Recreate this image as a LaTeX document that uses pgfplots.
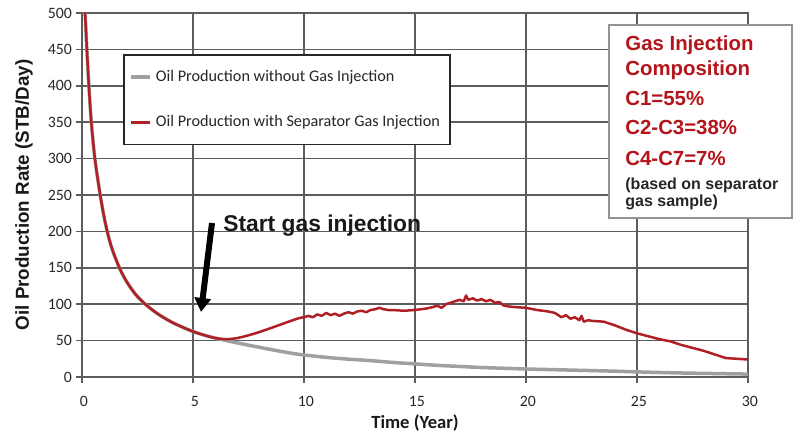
\documentclass[border=0pt]{standalone}
\usepackage{fontspec}
\setmainfont{Liberation Sans}
\newfontfamily\carlito{Carlito}
\usepackage{pgfplots}
\pgfplotsset{compat=1.18}
\usetikzlibrary{arrows.meta}
\definecolor{gridgray}{HTML}{5C5C5C}
\definecolor{oilgray}{HTML}{A0A0A0}
\definecolor{oilred}{HTML}{B01F24}
\definecolor{boxred}{HTML}{B3151B}

\begin{document}
\begin{tikzpicture}
\begin{axis}[
  scale only axis, width=333pt, height=182pt,
  xmin=0, xmax=30, ymin=0, ymax=500,
  xtick={0,5,...,30}, ytick={0,50,...,500},
  grid=major, grid style={gridgray, line width=0.8pt},
  axis line style={gridgray, line width=0.8pt},
  tick pos=left, tick align=outside, major tick length=3pt,
  tick style={gridgray, line width=0.8pt},
  /pgf/number format/assume math mode=true,
  ticklabel style={font=\carlito\fontsize{7.9}{9}\selectfont, text=black!85},
  xticklabel style={yshift=-3pt, xshift=1pt},
  yticklabel style={xshift=1.5pt},
  xlabel={Time (Year)},
  ylabel={Oil Production Rate (STB/Day)},
  xlabel style={font=\carlito\bfseries\fontsize{9.3}{11}\selectfont, text=black!90,
    at={(axis description cs:0.5,-0.126)}, anchor=center},
  ylabel style={font=\bfseries\fontsize{9.4}{11}\selectfont, text=black!90,
    at={(axis description cs:-0.087,0.5)}, anchor=center},
  legend style={at={(axis description cs:0.0616,0.887)}, anchor=north west,
    draw=black!85, line width=0.75pt, fill=white,
    font=\carlito\fontsize{8.1}{9.5}\selectfont, text=black!85,
    inner xsep=3pt, inner ysep=5.5pt, row sep=11.5pt},
  legend cell align=left,
  legend image code/.code={\draw[#1, line width=1.6pt] (0pt,0pt) -- (9.5pt,0pt);},
]
% without gas injection
\addplot[oilgray, line width=1.75pt, smooth, tension=0.5] coordinates {
(0.05,560) (0.14,500) (0.22,450) (0.31,400) (0.42,350) (0.58,300) (0.81,252)
(1.0,219) (1.2,192) (1.4,172) (1.7,149) (2.0,131.5) (2.4,114) (2.85,100)
(3.4,87) (4.0,76) (4.5,68.8) (5.0,62.5) (5.5,57.5) (6.0,53.5) (6.5,50)
(7.0,46.8) (7.7,42.5) (8.9,35.5) (9.8,31) (11,27) (12,24.5) (13,22.5)
(14,20) (15,18) (16,16) (17,14.5) (18,13) (19,12) (20,11) (22,9.5) (24,8)
(25,7) (27,5.5) (30,4)
};
\addlegendentry{Oil Production without Gas Injection}
% with separator gas injection, early smooth part
\addplot[oilred, line width=1.25pt, smooth, tension=0.5, forget plot] coordinates {
(0.05,560) (0.14,500) (0.22,450) (0.31,400) (0.42,350) (0.58,300) (0.81,252)
(1.0,219) (1.2,192) (1.4,172) (1.7,149) (2.0,131.5) (2.4,114) (2.85,100)
(3.4,87) (4.0,76) (4.5,68.8) (5.0,62.5) (5.5,57.5) (6.0,53.5) (6.5,52)
(7.0,53.5) (7.7,59) (8.3,65) (8.9,71.5) (9.4,77) (9.8,81) (10.0,82)
};
% noisy part
\addplot[oilred, line width=1.25pt, line join=round] coordinates {
(10.0,82) (10.2,84) (10.4,82) (10.6,86) (10.8,84) (11.0,88) (11.2,85)
(11.4,87) (11.6,84) (11.8,87) (12.0,89) (12.2,87) (12.4,90) (12.6,91)
(12.8,89) (13.0,92) (13.2,93) (13.4,95) (13.6,93) (13.8,92) (14.0,92)
(14.5,91) (15.0,92) (15.5,94) (15.8,96) (16.0,98) (16.2,95) (16.4,100)
(16.6,102) (16.8,104) (17.0,106) (17.2,104) (17.3,112) (17.4,106)
(17.6,108) (17.8,105) (18.0,107) (18.2,104) (18.4,106) (18.6,102)
(18.8,103) (19.0,98) (19.2,97) (19.5,96) (20.0,95) (20.5,92) (21.0,90)
(21.3,88) (21.6,82) (21.8,85) (22.0,80) (22.2,82) (22.4,78) (22.5,84)
(22.6,76) (22.8,78) (23.0,77) (23.5,76) (24.0,71) (24.5,65) (25.0,60)
(25.5,56) (26.0,52) (26.5,49) (27.0,44) (27.5,40) (28.0,36) (28.5,31)
(29.0,26) (29.5,25) (30.0,24)
};
\addlegendentry{Oil Production with Separator Gas Injection}
\end{axis}
\begin{scope}[shift={(current axis.south west)}, shift={(-41pt,188.5pt)}, x=0.5pt, y=-0.5pt]
  \draw[line width=3pt, -{Triangle[length=7pt,width=8pt]}] (212,223) -- (201,312);
  \node[anchor=base west, inner sep=0, font=\bfseries\fontsize{11.4}{13}\selectfont, text=black!90]
    at (223,232) {Start gas injection};
  \draw[draw=gray!85, line width=0.8pt, fill=white] (609,25) rectangle (792,218);
  \begin{scope}[every node/.style={anchor=base west, inner sep=0, text=boxred,
      font=\bfseries\fontsize{10.2}{12}\selectfont}]
    \node at (625,51) {Gas Injection};
    \node at (625,76) {Composition};
    \node at (625,106) {C1=55\%};
    \node at (625,135) {C2-C3=38\%};
    \node at (625,166) {C4-C7=7\%};
    \node[text=black!85, font=\bfseries\fontsize{8}{10}\selectfont] at (625,190) {(based on separator};
    \node[text=black!85, font=\bfseries\fontsize{8}{10}\selectfont] at (625,207) {gas sample)};
  \end{scope}
  \pgfresetboundingbox
  \path (0,0) rectangle (800,438);
\end{scope}
\end{tikzpicture}
\end{document}
